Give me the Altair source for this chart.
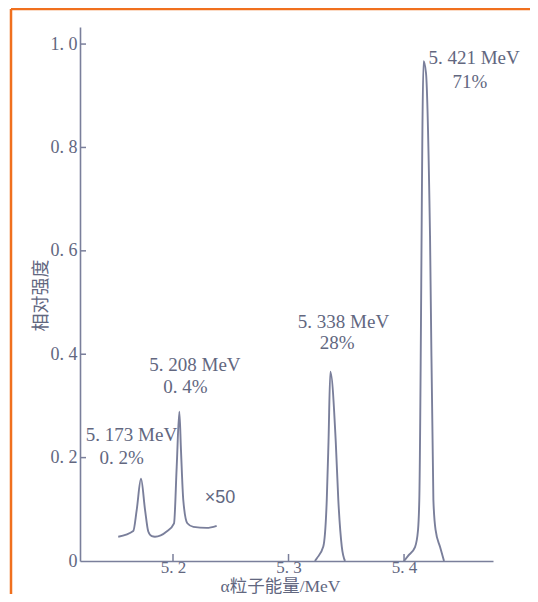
import altair as alt
import pandas as pd

# ---- data ----
# weak lines, drawn magnified x50
small_E = [5.1526, 5.1656, 5.1686, 5.1723, 5.1758, 5.1786, 5.1816, 5.1844, 5.1945,
           5.2009, 5.2032, 5.2055, 5.2069, 5.2089, 5.2124, 5.2176, 5.2292, 5.2378]
small_I = [0.047, 0.058, 0.099, 0.159, 0.099, 0.057, 0.048, 0.047, 0.057,
           0.073, 0.182, 0.289, 0.215, 0.118, 0.073, 0.066, 0.064, 0.068]
# 5.338 MeV peak
p338_E = [5.3229, 5.3244, 5.3301, 5.3331, 5.3346, 5.3362, 5.3409, 5.3431, 5.3461, 5.3489]
p338_I = [0.0, 0.005, 0.028, 0.118, 0.23, 0.366, 0.23, 0.118, 0.028, 0.0]
# 5.421 MeV peak
p421_E = [5.4000, 5.4035, 5.4095, 5.4121, 5.4132, 5.4169, 5.4190, 5.4225,
          5.4254, 5.4273, 5.4312, 5.4346]
p421_I = [0.0, 0.010, 0.027, 0.060, 0.118, 0.967, 0.944, 0.627,
          0.118, 0.060, 0.027, 0.0]

x_ticks = [5.2, 5.3, 5.4]
y_ticks = [0, 0.2, 0.4, 0.6, 0.8, 1.0]

label_text = ["5. 421 MeV", "71%", "5. 338 MeV", "28%", "5. 208 MeV", "0. 4%",
              "5. 173 MeV", "0. 2%"]
label_E = [5.4606, 5.4571, 5.3476, 5.3420, 5.2190, 5.2108, 5.1641, 5.1556]
label_I = [0.973, 0.927, 0.462, 0.421, 0.379, 0.337, 0.244, 0.199]
mag_text = ["×50"]
mag_E = [5.2407]
mag_I = [0.122]

x_title = "α粒子能量/MeV"
y_title = "相对强度"

# ---- build tables ----
rows = []
for name, es, ins in [("x50", small_E, small_I), ("p338", p338_E, p338_I), ("p421", p421_E, p421_I)]:
    for e, i in zip(es, ins):
        rows.append({"series": name, "E": e, "I": i})
curves = pd.DataFrame(rows)
labels = pd.DataFrame({"t": label_text, "E": label_E, "I": label_I})
mags = pd.DataFrame({"t": mag_text, "E": mag_E, "I": mag_I})
xt = pd.DataFrame({"E": x_ticks})
yt = pd.DataFrame({"I": [v for v in y_ticks if v > 0]})
one = pd.DataFrame({"k": [0]})

W, H = 413, 534
PAD = {"left": 72, "top": 19, "right": 37, "bottom": 33}
serif = "Liberation Serif, Noto Sans CJK SC"
ink = "#62677f"
line_c = "#7a7f9b"
orange = "#f0701e"

xs = alt.Scale(domain=[5.1195, 5.477], nice=False, zero=False)
ys = alt.Scale(domain=[0, 1.033], nice=False, zero=False)

x_axis = alt.Axis(values=x_ticks, ticks=False, grid=False,
                  labelExpr="replace(format(datum.value, '.1f'), '.', '. ')",
                  domainColor=line_c, domainWidth=1.6,
                  labelFont=serif, labelFontSize=17, labelFontWeight="normal",
                  labelColor=ink, labelPadding=-2,
                  title=x_title, titleFont=serif, titleFontSize=17.5, titleColor=ink,
                  titleFontWeight="normal", titleX=200, titleY=30,
                  titleAlign="center", titleBaseline="alphabetic")
y_axis = alt.Axis(values=y_ticks, ticks=False, grid=False,
                  labelExpr="datum.value == 0 ? '0' : replace(format(datum.value, '.1f'), '.', '. ')",
                  domainColor=line_c, domainWidth=1.6,
                  labelFont=serif, labelFontSize=18, labelFontWeight="normal",
                  labelColor=ink, labelPadding=3,
                  title=y_title, titleFont=serif, titleFontSize=18, titleColor=ink,
                  titleFontWeight="normal", titleX=-39, titleY=268, titleAngle=270,
                  titleAlign="center", titleBaseline="middle")

X = lambda f: alt.X(f, scale=xs, axis=x_axis)
Y = lambda f: alt.Y(f, scale=ys, axis=y_axis)

lines = alt.Chart(curves).mark_line(color=line_c, strokeWidth=1.9, interpolate="monotone").encode(
    x=X("E:Q"), y=Y("I:Q"), detail="series:N")

xtick = alt.Chart(xt).mark_rule(color=line_c, strokeWidth=1.5).encode(
    x=X("E:Q"), y=alt.value(H), y2=alt.value(H - 7))
ytick = alt.Chart(yt).mark_rule(color=line_c, strokeWidth=1.5).encode(
    y=Y("I:Q"), x=alt.value(0), x2=alt.value(6))

txt = alt.Chart(labels).mark_text(font=serif, fontSize=19, fontWeight="normal", color=ink,
                                  align="center", baseline="middle").encode(
    x=X("E:Q"), y=Y("I:Q"), text="t:N")
mag = alt.Chart(mags).mark_text(font="Liberation Sans", fontSize=18, color=ink, align="center",
                                baseline="middle").encode(
    x=X("E:Q"), y=Y("I:Q"), text="t:N")

frame_top = alt.Chart(one).mark_rule(color=orange, strokeWidth=2.5).encode(
    x=alt.value(-69), x2=alt.value(W + PAD["right"]), y=alt.value(-18))
frame_left = alt.Chart(one).mark_rule(color=orange, strokeWidth=2.5).encode(
    x=alt.value(-69), y=alt.value(-18), y2=alt.value(H + PAD["bottom"]))

chart = alt.layer(lines, xtick, ytick, txt, mag, frame_top, frame_left).properties(
    width=W, height=H, padding=PAD, autosize=alt.AutoSizeParams(type="none"),
    background="white",
).configure_view(stroke=None)

chart.save("out.html", embed_options={"renderer": "svg", "actions": False})
